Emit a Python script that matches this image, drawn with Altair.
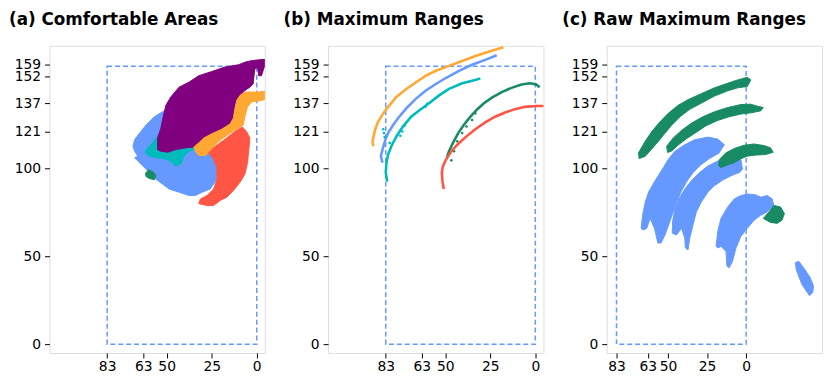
import altair as alt
import pandas as pd

# ---------------- panel (a): comfortable areas (polygon outlines, data units) ----------------
blue_a_x = [68.7, 67.8, 65.1, 61.4, 56.8, 52.3, 49.5, 26.7, 23.0, 21.6, 22.7, 25.8, 30.3, 34.0, 37.6, 43.1, 48.6, 52.3, 55.9, 59.6, 63.2, 66.0, 67.8, 66.0, 67.8]
blue_a_y = [112.5, 116.2, 119.9, 124.6, 129.3, 132.1, 133.0, 108.8, 105.0, 99.4, 92.9, 88.2, 86.4, 84.5, 84.5, 86.4, 88.2, 91.0, 93.8, 97.6, 101.3, 104.1, 106.0, 106.9, 109.7]

cyan_a_x = [61.4, 58.7, 55.9, 53.2, 50.4, 39.5, 34.0, 34.9, 37.6, 40.4, 42.2, 45.3, 47.7, 51.4, 55.9, 59.6, 61.8]
cyan_a_y = [110.6, 113.4, 117.2, 120.9, 123.7, 118.1, 113.4, 110.6, 109.7, 106.9, 102.2, 101.3, 104.1, 105.4, 106.0, 106.9, 108.8]

purple_a_x = [55.0, 55.0, 53.2, 51.9, 50.4, 47.7, 43.1, 37.6, 32.2, 24.9, 17.5, 10.2, 5.7, 1.1, -4.4, -4.4, -2.6, -1.1, -0.4, 1.1, 2.0, 3.8, 6.6, 9.3, 11.1, 12.1, 13.0, 14.8, 19.4, 24.9, 29.4, 32.2, 34.9, 39.5, 45.0, 49.5, 53.2]
purple_a_y = [110.6, 117.2, 122.8, 129.3, 135.8, 140.5, 146.1, 148.9, 152.6, 155.0, 157.6, 158.8, 160.6, 161.4, 161.9, 158.2, 152.6, 152.6, 157.3, 156.3, 148.0, 146.1, 144.2, 141.4, 138.6, 134.0, 128.4, 125.2, 122.2, 119.6, 117.2, 114.4, 112.1, 111.6, 110.6, 109.1, 109.7]

orange_a_x = [34.9, 32.2, 29.4, 24.9, 19.4, 14.8, 13.0, 12.1, 11.1, 9.3, 6.6, 2.0, -0.7, -4.4, -4.4, -0.7, 2.9, 5.1, 6.6, 7.5, 10.2, 14.8, 19.4, 23.0, 25.8, 28.5, 32.2, 34.0]
orange_a_y = [112.1, 114.4, 117.2, 119.6, 122.2, 125.2, 128.4, 134.0, 138.6, 141.4, 143.3, 143.3, 143.3, 143.8, 139.0, 138.2, 137.7, 134.9, 129.3, 124.6, 122.8, 119.9, 116.6, 113.4, 109.7, 107.3, 107.3, 109.7]

red_a_x = [26.7, 23.0, 17.5, 12.1, 8.0, 5.7, 3.8, 4.4, 5.1, 6.6, 9.3, 13.0, 16.6, 20.3, 23.9, 27.6, 32.2, 31.2, 27.6, 23.9, 22.1, 22.1, 23.9]
red_a_y = [108.8, 112.5, 116.6, 120.9, 123.5, 120.9, 117.2, 110.6, 103.2, 96.6, 92.0, 87.3, 83.6, 81.7, 78.9, 78.9, 79.9, 82.6, 84.5, 88.2, 93.8, 100.4, 105.0]

green_a_x = [61.8, 59.9, 57.4, 55.9, 56.8, 59.6, 61.4]
green_a_y = [97.2, 99.1, 97.9, 95.7, 93.5, 94.2, 95.3]

# ---------------- panel (b): maximum ranges (curves) ----------------
orange_b_x = [89.9, 90.3, 89.0, 87.2, 84.4, 81.7, 77.1, 71.6, 66.2, 60.7, 55.2, 47.9, 40.6, 33.3, 26.0, 17.7]
orange_b_y = [112.5, 115.3, 121.8, 126.5, 131.2, 134.9, 140.5, 145.1, 148.9, 152.6, 155.4, 158.2, 161.0, 163.8, 166.2, 168.8]

blue_b_x = [84.8, 85.7, 84.8, 83.5, 81.7, 78.9, 76.2, 71.6, 66.2, 60.7, 55.2, 49.7, 42.4, 35.1, 27.8, 21.4]
blue_b_y = [103.2, 106.9, 110.6, 115.3, 120.0, 124.6, 128.4, 134.0, 139.6, 144.2, 147.9, 151.3, 155.4, 158.8, 161.6, 164.2]

cyan_b_x = [82.2, 83.0, 82.6, 81.7, 79.9, 77.1, 73.5, 68.9, 64.3, 58.8, 53.4, 47.9, 40.6, 33.3, 30.5]
cyan_b_y = [92.4, 97.6, 103.2, 107.8, 112.5, 118.1, 123.7, 129.3, 133.0, 137.1, 141.4, 145.1, 148.3, 150.2, 151.1]
cyan_dots_x = [84.4, 84.0, 83.6, 74.9, 73.8, 72.6, 61.0, 59.8, 80.8]
cyan_dots_y = [122.2, 120.0, 117.7, 118.5, 120.9, 124.1, 134.9, 136.8, 114.4]

green_b_x = [49.0, 47.9, 45.7, 42.8, 39.7, 36.0, 32.3, 28.7, 24.1, 18.6, 13.2, 7.7, 3.1, -0.5, -2.4]
green_b_y = [106.5, 109.7, 114.4, 120.0, 124.6, 129.3, 133.4, 136.8, 140.1, 143.3, 145.7, 147.6, 148.3, 147.6, 146.1]
green_dots_x = [46.6, 45.1, 43.3, 40.6, 38.2, 35.1, 33.3]
green_dots_y = [104.5, 109.7, 115.3, 120.0, 123.7, 127.4, 131.2]

red_b_x = [50.8, 51.5, 51.9, 51.2, 49.7, 47.0, 43.3, 38.7, 33.3, 27.8, 22.3, 16.8, 11.3, 5.8, -0.5, -5.1]
red_b_y = [88.2, 92.4, 97.6, 101.3, 104.7, 109.1, 113.4, 117.7, 122.2, 126.1, 129.3, 131.7, 133.6, 134.9, 135.4, 135.4]

# ---------------- panel (c): raw maximum ranges (swath outlines) ----------------
green_c1_x = [68.9, 64.6, 60.4, 55.1, 49.9, 43.5, 37.2, 28.7, 20.3, 11.8, 5.5, -0.8, -3.0, -0.8, 5.5, 11.8, 20.3, 28.7, 36.1, 42.5, 47.7, 51.9, 56.0, 60.4, 64.6, 68.5]
green_c1_y = [108.8, 115.3, 120.9, 126.5, 131.2, 135.8, 139.0, 142.4, 145.7, 148.3, 150.2, 151.7, 150.2, 146.5, 145.7, 144.0, 141.0, 137.0, 133.5, 129.2, 124.5, 120.0, 115.5, 111.0, 106.8, 105.5]

green_c2_x = [50.9, 46.7, 41.4, 35.1, 27.7, 20.3, 11.8, 3.4, -3.0, -7.2, -11.0, -9.3, -3.0, 3.4, 10.8, 18.2, 25.6, 31.9, 38.2, 43.5, 47.7, 50.3]
green_c2_y = [112.5, 117.2, 121.5, 125.6, 129.3, 132.1, 134.5, 136.2, 136.4, 135.3, 134.5, 132.6, 131.5, 130.8, 129.3, 127.2, 124.2, 120.5, 116.8, 113.2, 109.8, 109.0]

green_c3_x = [17.1, 12.9, 7.6, 1.3, -5.1, -11.4, -15.6, -17.3, -12.5, -6.1, -0.8, 3.4, 7.6, 11.8, 16.1, 17.7]
green_c3_y = [105.0, 108.8, 111.2, 113.1, 113.8, 112.9, 111.6, 109.1, 107.8, 107.5, 106.9, 105.4, 103.2, 101.9, 100.4, 101.7]

green_c4_x = [-11.0, -14.6, -17.8, -22.0, -24.5, -23.0, -19.9, -15.6]
green_c4_y = [71.5, 75.2, 78.9, 78.0, 74.3, 70.5, 68.7, 69.2]

blue_c1_x = [67.2, 66.3, 64.6, 62.5, 58.3, 53.0, 49.9, 45.6, 39.3, 33.0, 24.5, 18.2, 13.9, 17.5, 23.5, 29.0, 34.0, 38.0, 41.5, 44.5, 47.0, 49.5, 52.0, 54.5, 56.5, 58.7, 61.5, 63.6, 66.1]
blue_c1_y = [65.9, 73.3, 80.8, 86.4, 92.9, 100.4, 105.0, 109.7, 113.4, 116.2, 117.7, 116.6, 113.4, 108.5, 105.5, 102.0, 97.5, 92.5, 87.0, 81.0, 74.5, 68.0, 62.0, 57.5, 57.5, 65.9, 71.5, 65.9, 64.9]

blue_c2_x = [47.3, 47.1, 45.6, 43.1, 39.3, 35.1, 29.8, 24.5, 18.2, 11.8, 6.5, 3.4, 2.3, 4.4, 9.7, 15.0, 20.3, 24.5, 28.7, 31.9, 34.0, 36.1, 37.2, 38.9, 39.3, 41.4, 44.6]
blue_c2_y = [63.1, 69.6, 77.1, 82.6, 88.2, 92.9, 97.6, 101.3, 104.1, 106.0, 106.9, 105.0, 99.4, 97.6, 95.7, 93.3, 90.1, 86.4, 80.8, 75.2, 67.7, 60.3, 53.7, 54.7, 60.3, 65.9, 62.1]

blue_c3_x = [19.2, 18.2, 16.1, 11.8, 7.6, 3.4, -0.8, -6.1, -9.3, -13.5, -16.7, -17.7, -13.5, -9.3, -5.1, -0.8, 3.4, 6.5, 8.7, 10.8, 12.3, 12.9, 16.1, 18.2]
blue_c3_y = [55.6, 64.0, 71.5, 78.0, 82.6, 84.5, 85.4, 84.9, 83.6, 84.5, 82.6, 78.9, 75.2, 73.3, 70.5, 65.9, 61.2, 54.7, 47.2, 43.5, 44.4, 52.8, 55.6, 54.7]

blue_c4_x = [-31.5, -33.6, -36.8, -41.0, -43.1, -42.7, -40.6, -38.4, -35.7, -33.6, -32.1]
blue_c4_y = [46.3, 47.2, 43.5, 37.9, 33.2, 29.5, 27.6, 30.4, 34.1, 38.8, 42.5]

# ---------------- shared settings ----------------
x_ticks = [83, 63, 50, 25, 0]
y_ticks = [0, 50, 100, 121, 137, 152, 159]
box = pd.DataFrame({"x": [83], "x2": [0], "y": [0], "y2": [158]})

PURPLE = "#800080"
ORANGE = "#FFA833"
RED = "#FF5544"
BLUE = "#6699FF"
CYAN = "#00BBBB"
GREEN = "#188A64"

yscale = alt.Scale(domain=[-5, 169.6], nice=False, zero=False)
xscale_ab = alt.Scale(domain=[-4.5, 115], reverse=True, nice=False, zero=False)
xscale_c = alt.Scale(domain=[-48.6, 89.3], reverse=True, nice=False, zero=False)

xaxis = alt.Axis(values=x_ticks, title=None, grid=False, domain=False, tickSize=5,
                 tickColor="black", tickWidth=1, labelColor="black", labelFont="DejaVu Sans",
                 labelFontSize=14, labelOverlap=False, labelFlush=False, labelPadding=2)
yaxis = alt.Axis(values=y_ticks, title=None, grid=False, domain=False, tickSize=5,
                 tickColor="black", tickWidth=1, labelColor="black", labelFont="DejaVu Sans",
                 labelFontSize=14, labelOverlap=False, labelFlush=False, labelPadding=4)


def frame(df):
    return df.reset_index().rename(columns={"index": "i"})


def polygon(xs, ys, color, xscale):
    df = frame(pd.DataFrame({"x": xs, "y": ys}))
    return alt.Chart(df).mark_line(
        fill=color, stroke=color, strokeWidth=1, interpolate="linear-closed", clip=True
    ).encode(
        x=alt.X("x:Q", scale=xscale, axis=xaxis),
        y=alt.Y("y:Q", scale=yscale, axis=yaxis),
        order="i:Q",
    )


def curve(xs, ys, color, xscale):
    df = frame(pd.DataFrame({"x": xs, "y": ys}))
    return alt.Chart(df).mark_line(stroke=color, strokeWidth=2.6, clip=True).encode(
        x=alt.X("x:Q", scale=xscale, axis=xaxis),
        y=alt.Y("y:Q", scale=yscale, axis=yaxis),
        order="i:Q",
    )


def dots(xs, ys, color, xscale):
    df = pd.DataFrame({"x": xs, "y": ys})
    return alt.Chart(df).mark_circle(color=color, size=7, opacity=1, clip=True).encode(
        x=alt.X("x:Q", scale=xscale, axis=xaxis),
        y=alt.Y("y:Q", scale=yscale, axis=yaxis),
    )


def dashed_box(xscale):
    return alt.Chart(box).mark_rect(
        filled=False, stroke=BLUE, strokeWidth=1.5, strokeDash=[5, 3]
    ).encode(
        x=alt.X("x:Q", scale=xscale, axis=xaxis),
        x2="x2:Q",
        y=alt.Y("y:Q", scale=yscale, axis=yaxis),
        y2="y2:Q",
    )


def title(text, dx):
    return alt.TitleParams(text=text, anchor="start", frame="group", dx=dx, offset=4,
                           baseline="alphabetic", font="DejaVu Sans", fontSize=17,
                           fontWeight="bold", color="black")


W, H = 218, 311

panel_a = alt.layer(
    dashed_box(xscale_ab),
    polygon(blue_a_x, blue_a_y, BLUE, xscale_ab),
    polygon(cyan_a_x, cyan_a_y, CYAN, xscale_ab),
    polygon(purple_a_x, purple_a_y, PURPLE, xscale_ab),
    polygon(orange_a_x, orange_a_y, ORANGE, xscale_ab),
    polygon(red_a_x, red_a_y, RED, xscale_ab),
    polygon(green_a_x, green_a_y, GREEN, xscale_ab),
).properties(width=W, height=H, title=title("(a) Comfortable Areas", -41))

panel_b = alt.layer(
    dashed_box(xscale_ab),
    curve(orange_b_x, orange_b_y, ORANGE, xscale_ab),
    curve(blue_b_x, blue_b_y, BLUE, xscale_ab),
    curve(cyan_b_x, cyan_b_y, CYAN, xscale_ab),
    dots(cyan_dots_x, cyan_dots_y, CYAN, xscale_ab),
    curve(green_b_x, green_b_y, GREEN, xscale_ab),
    dots(green_dots_x, green_dots_y, GREEN, xscale_ab),
    curve(red_b_x, red_b_y, RED, xscale_ab),
).properties(width=W, height=H, title=title("(b) Maximum Ranges", -45))

panel_c = alt.layer(
    dashed_box(xscale_c),
    polygon(blue_c1_x, blue_c1_y, BLUE, xscale_c),
    polygon(blue_c2_x, blue_c2_y, BLUE, xscale_c),
    polygon(blue_c3_x, blue_c3_y, BLUE, xscale_c),
    polygon(blue_c4_x, blue_c4_y, BLUE, xscale_c),
    polygon(green_c1_x, green_c1_y, GREEN, xscale_c),
    polygon(green_c2_x, green_c2_y, GREEN, xscale_c),
    polygon(green_c3_x, green_c3_y, GREEN, xscale_c),
    polygon(green_c4_x, green_c4_y, GREEN, xscale_c),
).properties(width=W, height=H, title=title("(c) Raw Maximum Ranges", -45))

chart = alt.hconcat(panel_a, panel_b, panel_c, spacing=64, bounds="flush").properties(
    padding={"left": 0, "top": 0, "right": 1, "bottom": 0}
).configure_view(stroke="black", strokeWidth=1).configure(background="white")

chart.save("out.html", embed_options={"renderer": "svg", "actions": False})
